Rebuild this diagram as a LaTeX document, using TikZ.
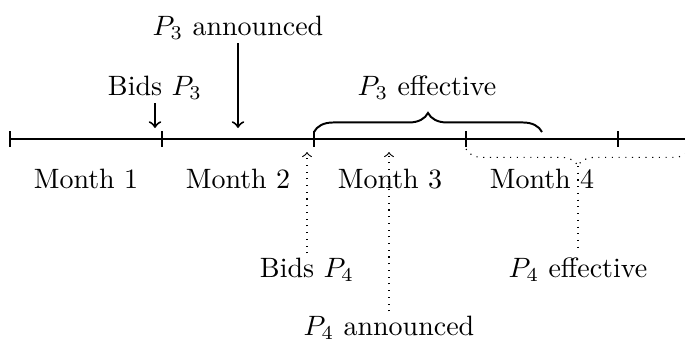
\documentclass[tikz,border=0pt]{standalone}
\usetikzlibrary{decorations.pathreplacing}
\begin{document}
\begin{tikzpicture}[x=0.357pt,y=-0.357pt,
  lbl/.style={inner sep=1.3pt,anchor=base},
  month/.style={anchor=base},
  axis/.style={line width=0.7pt},
  tick/.style={thin},
  solidarrow/.style={->,line width=0.7pt},
  dotarrow/.style={->,dotted},
  dotline/.style={dotted}]
\useasboundingbox (0,0) rectangle (685,339);
% timeline
\coordinate (tstart) at (10,139);
\coordinate (tend) at (685,139);
\draw[axis] (tstart) -- (tend);
\foreach \x/\n in {10/0,162/1,314/2,466/3,618/4}{
  \coordinate (t\n) at (\x,139);
  \draw[tick] (\x,131) -- (\x,147);
}
% month labels
\node[month] (m1) at (86,188) {Month 1};
\node[month] (m2) at (238,188) {Month 2};
\node[month] (m3) at (390,188) {Month 3};
\node[month] (m4) at (542,188) {Month 4};
% P3 events
\node[lbl] (bp3) at (155,95) {Bids $P_3$};
\coordinate (bp3e) at (155,128);
\draw[solidarrow] (bp3) -- (bp3e);
\node[lbl] (p3a) at (238,35) {$P_3$ announced};
\coordinate (p3ae) at (238,128);
\draw[solidarrow] (p3a) -- (p3ae);
\coordinate (b3s) at (314,132);
\coordinate (b3e) at (542,132);
\draw[line width=0.7pt,decorate,decoration={brace,amplitude=6.8pt}] (b3s) -- (b3e);
\node[lbl] (p3e) at (427,95) {$P_3$ effective};
% P4 events
\node[lbl] (bp4) at (307,277) {Bids $P_4$};
\coordinate (bp4e) at (307,152);
\draw[dotarrow] (bp4) -- (bp4e);
\node[lbl] (p4a) at (389,335) {$P_4$ announced};
\coordinate (p4ae) at (389,152);
\draw[dotarrow] (p4a) -- (p4ae);
\coordinate (b4s) at (466,149);
\coordinate (b4e) at (690,149);
\draw[dotline,decorate,decoration={brace,mirror,amplitude=6pt}] (b4s) -- (b4e);
\coordinate (b4tip) at (578,166);
\node[lbl] (p4e) at (578,277) {$P_4$ effective};
\draw[dotline] (b4tip) -- (p4e);
\end{tikzpicture}
\end{document}
